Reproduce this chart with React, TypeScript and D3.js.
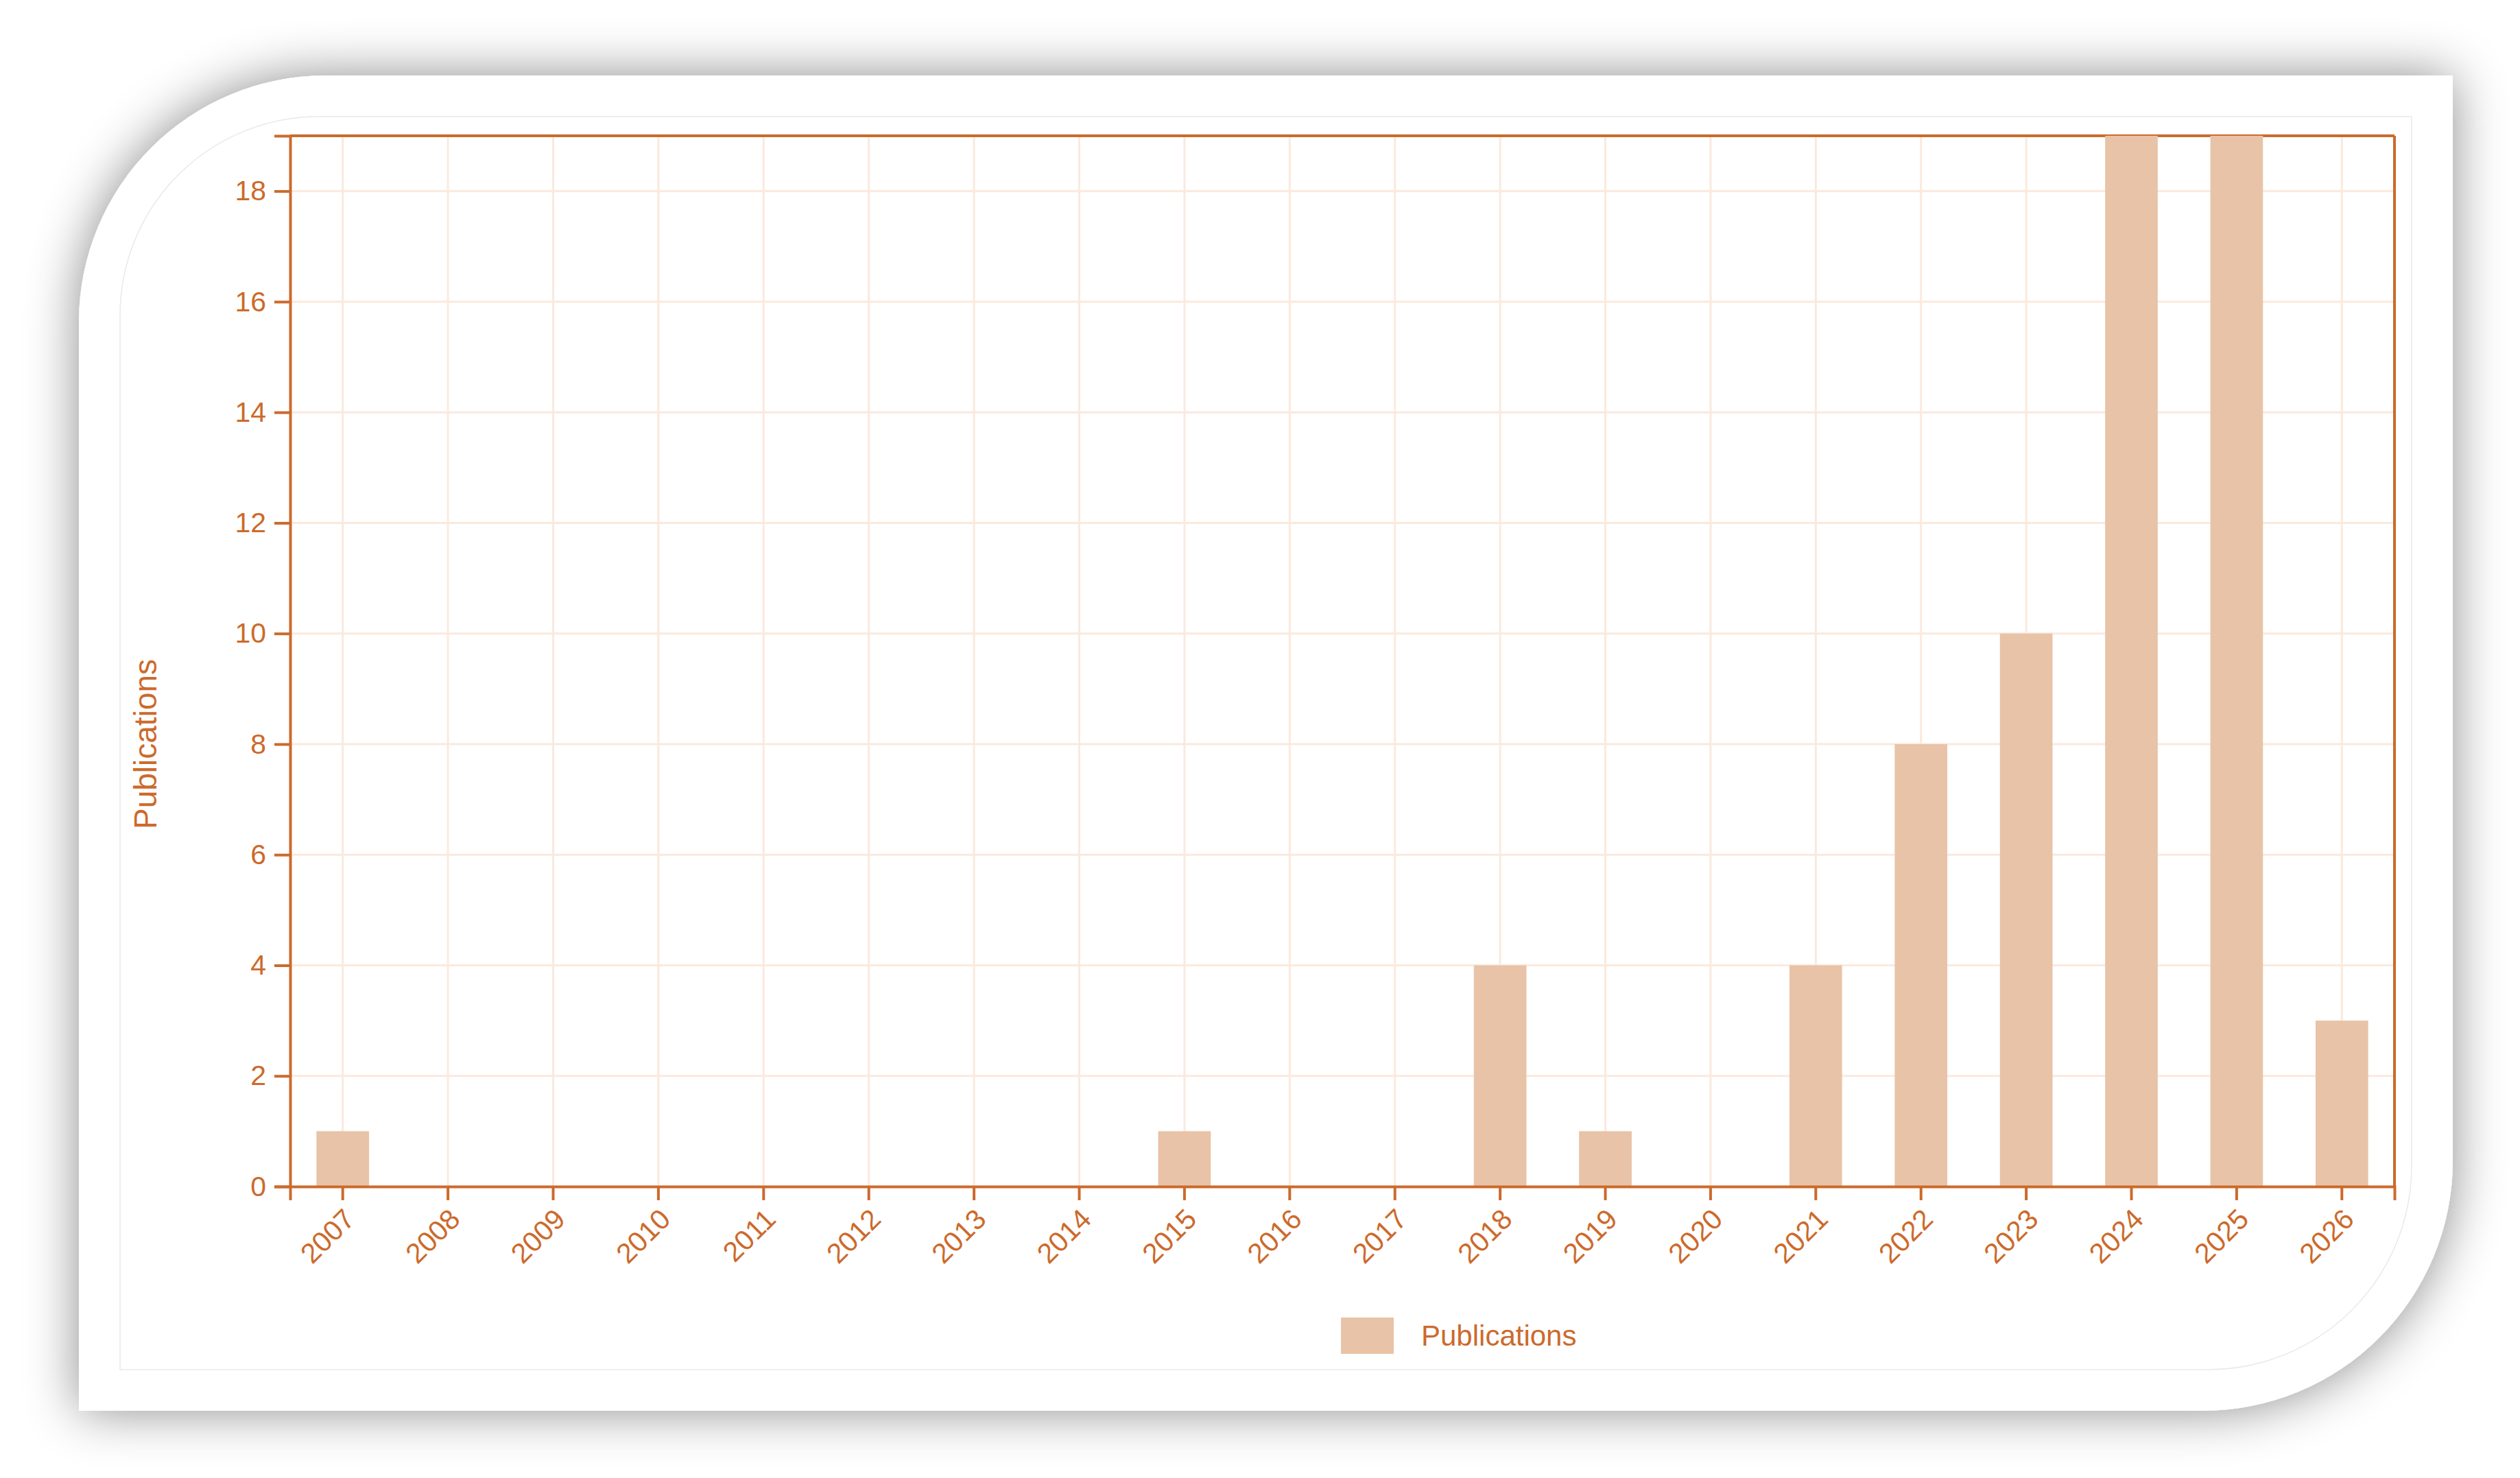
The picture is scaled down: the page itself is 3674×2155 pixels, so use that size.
import React, { useEffect, useRef } from 'react';
import * as d3 from 'd3';

const years = ['2007', '2008', '2009', '2010', '2011', '2012', '2013', '2014', '2015', '2016',
  '2017', '2018', '2019', '2020', '2021', '2022', '2023', '2024', '2025', '2026'];
const publications = [1, 0, 0, 0, 0, 0, 0, 0, 1, 0, 0, 4, 1, 0, 4, 8, 10, 19, 19, 3];
const yTicks = [0, 2, 4, 6, 8, 10, 12, 14, 16, 18];
const yMax = 19;
const seriesName = 'Publications';
const yTitle = 'Publications';

const W = 3674;
const H = 2155;
const AXIS = '#cc6a2c';
const BAR = '#e8c3a7';
const GRID = '#fbe9de';
const FONT = '"Liberation Sans", Arial, sans-serif';

export default function App() {
  const ref = useRef(null);

  useEffect(() => {
    const svg = d3.select(ref.current);
    svg.selectAll('*').remove();

    const left = 423, right = 3491, top = 198, bottom = 1730;

    const x = d3.scaleBand()
      .domain(years)
      .range([left, right])
      .paddingInner(0.5)
      .paddingOuter(0.25);

    const y = d3.scaleLinear()
      .domain([0, yMax])
      .range([bottom, top]);

    // card + shadow
    const defs = svg.append('defs');
    const f = defs.append('filter').attr('id', 'shadow')
      .attr('x', '-10%').attr('y', '-10%').attr('width', '120%').attr('height', '120%');
    f.append('feDropShadow')
      .attr('dx', 0).attr('dy', 0)
      .attr('stdDeviation', 38)
      .attr('flood-color', '#000')
      .attr('flood-opacity', 0.45);

    svg.append('path')
      .attr('d', 'M115,470 A360,360 0 0 1 475,110 L3576,110 L3576,1692 A365,365 0 0 1 3211,2057 L115,2057 Z')
      .attr('fill', '#fff')
      .attr('filter', 'url(#shadow)');

    // faint inner panel outline
    svg.append('path')
      .attr('d', 'M175,460 A290,290 0 0 1 465,170 L3516,170 L3516,1700 A297,297 0 0 1 3219,1997 L175,1997 Z')
      .attr('fill', 'none')
      .attr('stroke', '#e9e9e9')
      .attr('stroke-width', 1.5);

    // grid
    const grid = svg.append('g');
    grid.selectAll('.vgrid')
      .data(years)
      .enter().append('line')
        .attr('class', 'vgrid')
        .attr('x1', d => x(d) + x.bandwidth() / 2)
        .attr('x2', d => x(d) + x.bandwidth() / 2)
        .attr('y1', y(yMax))
        .attr('y2', y(0))
        .attr('stroke', GRID)
        .attr('stroke-width', 3);
    grid.selectAll('.hgrid')
      .data(yTicks.filter(t => t > 0))
      .enter().append('line')
        .attr('class', 'hgrid')
        .attr('x1', left)
        .attr('x2', right)
        .attr('y1', d => y(d))
        .attr('y2', d => y(d))
        .attr('stroke', GRID)
        .attr('stroke-width', 3);

    // frame top / right
    svg.append('line')
      .attr('x1', left).attr('x2', right)
      .attr('y1', y(yMax)).attr('y2', y(yMax))
      .attr('stroke', AXIS).attr('stroke-width', 4);
    svg.append('line')
      .attr('x1', right).attr('x2', right)
      .attr('y1', y(yMax)).attr('y2', y(0))
      .attr('stroke', AXIS).attr('stroke-width', 4);

    // bars
    svg.selectAll('.bar')
      .data(years.map((yr, i) => ({ year: yr, value: publications[i] })).filter(d => d.value > 0))
      .enter().append('rect')
        .attr('class', 'bar')
        .attr('x', d => x(d.year))
        .attr('width', x.bandwidth())
        .attr('y', d => y(d.value))
        .attr('height', d => y(0) - y(d.value))
        .attr('fill', BAR);

    // axes
    const yAxis = svg.append('g')
      .attr('transform', `translate(${left},0)`)
      .call(d3.axisLeft(y).tickValues(yTicks).tickSize(23).tickSizeOuter(23).tickPadding(12));

    const xAxis = svg.append('g')
      .attr('transform', `translate(0,${bottom})`)
      .call(d3.axisBottom(x).tickSize(20).tickSizeOuter(20));

    [yAxis, xAxis].forEach(g => {
      g.attr('font-family', FONT).attr('font-size', 41);
      g.selectAll('line, path').attr('stroke', AXIS).attr('stroke-width', 4);
      g.selectAll('text').attr('fill', AXIS);
    });

    xAxis.selectAll('text')
      .attr('x', null)
      .attr('y', null)
      .attr('dy', null)
      .attr('text-anchor', 'end')
      .attr('transform', 'translate(20,50) rotate(-45)');

    // y title
    svg.append('text')
      .attr('transform', 'translate(228,1085) rotate(-90)')
      .attr('text-anchor', 'middle')
      .attr('font-family', FONT)
      .attr('font-size', 46)
      .attr('fill', AXIS)
      .text(yTitle);

    // legend
    svg.append('rect')
      .attr('x', 1955).attr('y', 1921)
      .attr('width', 77).attr('height', 53)
      .attr('fill', BAR);
    svg.append('text')
      .attr('x', 2072).attr('y', 1962)
      .attr('font-family', FONT)
      .attr('font-size', 42)
      .attr('fill', AXIS)
      .text(seriesName);
  }, []);

  return (
    <svg
      ref={ref}
      width={W}
      height={H}
      viewBox={`0 0 ${W} ${H}`}
      style={{ position: 'absolute', left: 0, top: 0, display: 'block', background: '#fff' }}
    />
  );
}
